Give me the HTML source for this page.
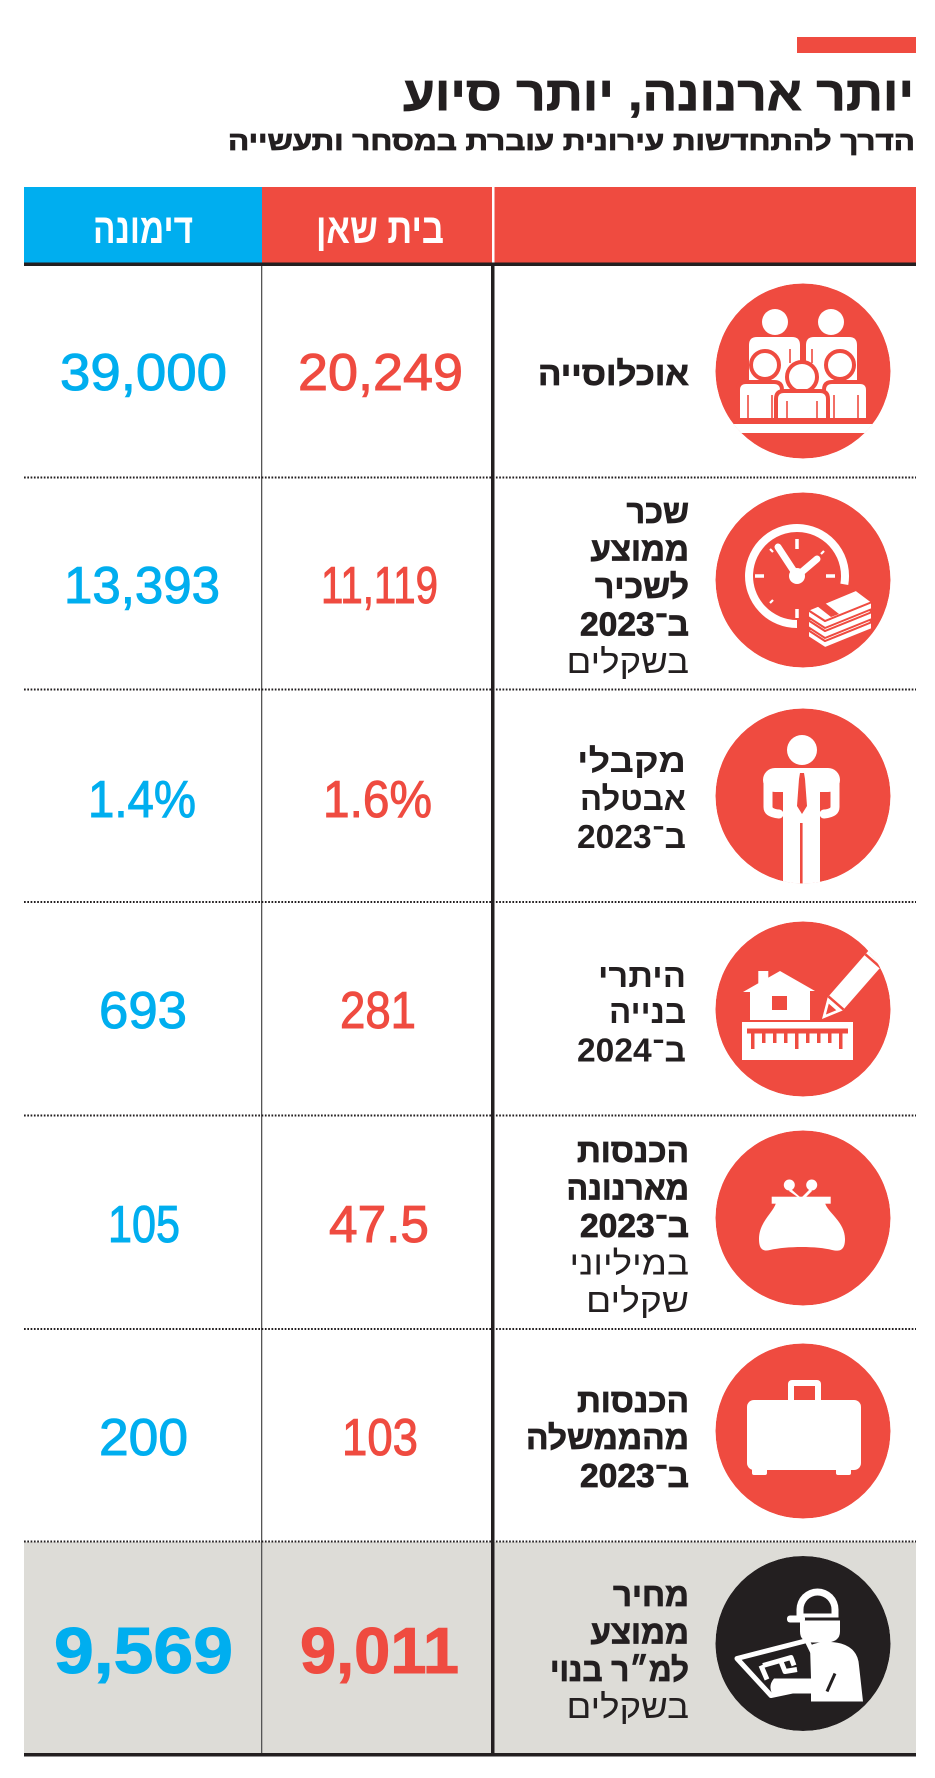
<!DOCTYPE html>
<html><head><meta charset="utf-8">
<style>
html,body{margin:0;padding:0;background:#fff;width:935px;height:1778px;overflow:hidden;}
svg{display:block;}
text{font-family:"Liberation Sans","DejaVu Sans",sans-serif;}
.t{fill:#231f20;font-weight:bold;}
.tb{fill:#231f20;font-weight:bold;stroke:#231f20;stroke-width:0.8;}
.tr{fill:#231f20;font-weight:normal;}
.nr{fill:#ef4b40;stroke:#ef4b40;stroke-width:1;}
.nb{fill:#00aeef;stroke:#00aeef;stroke-width:1;}
</style></head><body>
<svg width="935" height="1778" viewBox="0 0 935 1778" xmlns="http://www.w3.org/2000/svg">
<defs>
<clipPath id="c"><circle cx="0" cy="0" r="87.5"/></clipPath>
</defs>
<rect width="935" height="1778" fill="#fff"/>
<rect x="797" y="37" width="119" height="16" fill="#ef4b40"/>
<text class="tb" x="403" y="110" font-size="48" stroke-width="1.2" textLength="511" lengthAdjust="spacingAndGlyphs">יותר ארנונה, יותר סיוע</text>
<text class="tb" x="228" y="150" font-size="26" textLength="687" lengthAdjust="spacingAndGlyphs">הדרך להתחדשות עירונית עוברת במסחר ותעשייה</text>

<!-- header -->
<rect x="24" y="187" width="238" height="76" fill="#00aeef"/>
<rect x="262" y="187" width="654" height="76" fill="#ef4b40"/>
<rect x="492" y="187" width="2.5" height="76" fill="#fff"/>
<text x="93" y="243" font-size="42" font-weight="bold" fill="#fff" textLength="100" lengthAdjust="spacingAndGlyphs">דימונה</text>
<text x="316" y="243" font-size="42" font-weight="bold" fill="#fff" textLength="128" lengthAdjust="spacingAndGlyphs">בית שאן</text>

<!-- gray last row -->
<rect x="24" y="1542" width="892" height="211" fill="#dddcd7"/>

<!-- lines -->
<rect x="24" y="262.5" width="892" height="3.5" fill="#231f20"/>
<rect x="24" y="1753" width="892" height="3.5" fill="#231f20"/>
<rect x="261" y="266" width="1.3" height="1487" fill="#555"/>
<rect x="491" y="266" width="3.5" height="1487" fill="#231f20"/>
<g stroke="#231f20" stroke-width="2" stroke-dasharray="1.7 1.6">
<line x1="24" x2="916" y1="477.5" y2="477.5"/>
<line x1="24" x2="916" y1="689.5" y2="689.5"/>
<line x1="24" x2="916" y1="902" y2="902"/>
<line x1="24" x2="916" y1="1115.5" y2="1115.5"/>
<line x1="24" x2="916" y1="1329" y2="1329"/>
<line x1="24" x2="916" y1="1541.5" y2="1541.5"/>
</g>

<!-- row labels -->
<text class="tb" x="538" y="385" font-size="33" textLength="151" lengthAdjust="spacingAndGlyphs">אוכלוסייה</text>

<text class="tb" x="626.5" y="523" font-size="33" textLength="62.5" lengthAdjust="spacingAndGlyphs">שכר</text>
<text class="tb" x="590.5" y="560.5" font-size="33" textLength="98.5" lengthAdjust="spacingAndGlyphs">ממוצע</text>
<text class="tb" x="595" y="598" font-size="33" textLength="94" lengthAdjust="spacingAndGlyphs">לשכיר</text>
<text class="tb" x="580" y="635.5" font-size="33" textLength="109" lengthAdjust="spacingAndGlyphs">ב־2023</text>
<text class="tr" x="566.5" y="673" font-size="33" textLength="122.5" lengthAdjust="spacingAndGlyphs">בשקלים</text>

<text class="t" x="577" y="772" font-size="33" textLength="109" lengthAdjust="spacingAndGlyphs">מקבלי</text>
<text class="t" x="580" y="810" font-size="33" textLength="106" lengthAdjust="spacingAndGlyphs">אבטלה</text>
<text class="t" x="577" y="848" font-size="33" textLength="109" lengthAdjust="spacingAndGlyphs">ב־2023</text>

<text class="t" x="598" y="987" font-size="33" textLength="88" lengthAdjust="spacingAndGlyphs">היתרי</text>
<text class="t" x="609" y="1023" font-size="33" textLength="77" lengthAdjust="spacingAndGlyphs">בנייה</text>
<text class="t" x="577" y="1061.5" font-size="33" textLength="109" lengthAdjust="spacingAndGlyphs">ב־2024</text>

<text class="tb" x="577" y="1162" font-size="33" textLength="112" lengthAdjust="spacingAndGlyphs">הכנסות</text>
<text class="tb" x="566.5" y="1199.5" font-size="33" textLength="122.5" lengthAdjust="spacingAndGlyphs">מארנונה</text>
<text class="tb" x="580" y="1237" font-size="33" textLength="109" lengthAdjust="spacingAndGlyphs">ב־2023</text>
<text class="tr" x="569.5" y="1274.5" font-size="33" textLength="119.5" lengthAdjust="spacingAndGlyphs">במיליוני</text>
<text class="tr" x="586" y="1312" font-size="33" textLength="103" lengthAdjust="spacingAndGlyphs">שקלים</text>

<text class="tb" x="577" y="1412" font-size="33" textLength="112" lengthAdjust="spacingAndGlyphs">הכנסות</text>
<text class="tb" x="526" y="1449" font-size="33" textLength="163" lengthAdjust="spacingAndGlyphs">מהממשלה</text>
<text class="tb" x="580" y="1487" font-size="33" textLength="109" lengthAdjust="spacingAndGlyphs">ב־2023</text>

<text class="tb" x="613" y="1606" font-size="33" textLength="76" lengthAdjust="spacingAndGlyphs">מחיר</text>
<text class="tb" x="590.5" y="1643.5" font-size="33" textLength="98.5" lengthAdjust="spacingAndGlyphs">ממוצע</text>
<text class="tb" x="550" y="1681" font-size="33" textLength="139" lengthAdjust="spacingAndGlyphs">למ״ר בנוי</text>
<text class="tr" x="566.5" y="1718" font-size="33" textLength="122.5" lengthAdjust="spacingAndGlyphs">בשקלים</text>

<!-- numbers -->
<g font-size="52">
<text class="nb" x="60" y="390" textLength="167" lengthAdjust="spacingAndGlyphs">39,000</text>
<text class="nr" x="298" y="390" textLength="165" lengthAdjust="spacingAndGlyphs">20,249</text>
<text class="nb" x="64" y="603" textLength="156" lengthAdjust="spacingAndGlyphs">13,393</text>
<text class="nr" x="321" y="603" textLength="117" lengthAdjust="spacingAndGlyphs">11,119</text>
<text class="nb" x="88" y="817" textLength="108" lengthAdjust="spacingAndGlyphs">1.4%</text>
<text class="nr" x="323" y="817" textLength="109" lengthAdjust="spacingAndGlyphs">1.6%</text>
<text class="nb" x="99" y="1028" textLength="88" lengthAdjust="spacingAndGlyphs">693</text>
<text class="nr" x="340" y="1028" textLength="76" lengthAdjust="spacingAndGlyphs">281</text>
<text class="nb" x="108" y="1242" textLength="72" lengthAdjust="spacingAndGlyphs">105</text>
<text class="nr" x="329" y="1242" textLength="100" lengthAdjust="spacingAndGlyphs">47.5</text>
<text class="nb" x="99" y="1455" textLength="89" lengthAdjust="spacingAndGlyphs">200</text>
<text class="nr" x="342" y="1455" textLength="76" lengthAdjust="spacingAndGlyphs">103</text>
</g>
<g font-size="65" font-weight="bold">
<text class="nb" x="54" y="1673" textLength="179" lengthAdjust="spacingAndGlyphs">9,569</text>
<text class="nr" x="300" y="1673" textLength="159" lengthAdjust="spacingAndGlyphs">9,011</text>
</g>

<!-- ICON 1: people -->
<g transform="translate(803,371)"><g clip-path="url(#c)">
<circle r="87.5" fill="#ef4b40"/>
<g fill="#fff">
<circle cx="-28" cy="-49" r="13"/>
<circle cx="28" cy="-49" r="13"/>
<path d="M-54 -26 q0 -8 8 -8 h35 q8 0 8 8 v73 h-51z"/>
<path d="M3 -26 q0 -8 8 -8 h35 q8 0 8 8 v73 h-51z"/>
</g>
<g fill="#fff" stroke="#ef4b40" stroke-width="4">
<circle cx="-38" cy="-6" r="14"/>
<circle cx="37" cy="-6" r="14"/>
<path d="M-65 19 q0 -8 8 -8 h28 q8 0 8 8 v30 h-44z"/>
<path d="M21 19 q0 -8 8 -8 h28 q8 0 8 8 v30 h-44z"/>
<circle cx="-1" cy="6" r="15"/>
<path d="M-27 28 q0 -8 8 -8 h36 q8 0 8 8 v21 h-52z"/>
</g>
<g stroke="#ef4b40" stroke-width="1.6">
<line x1="-55" y1="24" x2="-55" y2="47"/>
<line x1="-31" y1="24" x2="-31" y2="47"/>
<line x1="-16" y1="30" x2="-16" y2="47"/>
<line x1="14" y1="30" x2="14" y2="47"/>
<line x1="31" y1="24" x2="31" y2="47"/>
<line x1="55" y1="24" x2="55" y2="47"/>
<line x1="-13" y1="-22" x2="-13" y2="-8"/>
<line x1="9" y1="-22" x2="9" y2="-8"/>
</g>
<rect x="-90" y="53" width="180" height="9" fill="#fff"/>
</g></g>

<!-- ICON 2: clock + money -->
<g transform="translate(803,580)"><g clip-path="url(#c)">
<circle r="87.5" fill="#ef4b40"/>
<g transform="translate(-6,-4)" stroke="#fff" fill="none">
<path d="M47.3 8.3 A48 48 0 1 0 0 48" stroke-width="8"/>
<g stroke-width="3.5">
<line x1="0" y1="-37" x2="0" y2="-27"/>
<line x1="29" y1="0" x2="38" y2="0"/>
<line x1="0" y1="33" x2="0" y2="42"/>
<line x1="-42" y1="0" x2="-33" y2="0"/>
</g>
<g stroke-width="2.2">
<line x1="-27" y1="-27" x2="-24" y2="-24"/>
<line x1="27" y1="-25" x2="24" y2="-22"/>
<line x1="-27" y1="27" x2="-24" y2="24"/>
</g>
<line x1="0" y1="0" x2="-19" y2="-29" stroke-width="7" stroke-linecap="round"/>
<line x1="0" y1="0" x2="20" y2="-17" stroke-width="7" stroke-linecap="round"/>
<circle r="8" fill="#fff" stroke="none"/>
</g>
<g fill="#fff" stroke="#ef4b40" stroke-width="2" stroke-linejoin="round">
<g transform="translate(0,20)">
<polygon points="5,30 22,41 69,22 69,29 22,48 5,37"/>
<polygon points="5,30 53,10 69,22 22,41"/>
</g>
<g transform="translate(0,10)">
<polygon points="5,30 22,41 69,22 69,29 22,48 5,37"/>
<polygon points="5,30 53,10 69,22 22,41"/>
</g>
<g>
<polygon points="5,30 22,41 69,22 69,29 22,48 5,37"/>
<polygon points="5,30 53,10 69,22 22,41"/>
<polygon points="14,26 28,37 36,34 22,23" fill="#ef4b40" stroke="none"/>
</g>
</g>
</g></g>

<!-- ICON 3: man with tie -->
<g transform="translate(803,796)"><g clip-path="url(#c)">
<circle r="87.5" fill="#ef4b40"/>
<g fill="#fff">
<circle cx="-1" cy="-46" r="15"/>
<rect x="-20" y="-27" width="37" height="130"/>
<rect x="-40" y="-28" width="77" height="24" rx="12"/>
</g>
<g stroke="#fff" stroke-width="9" fill="none" stroke-linecap="round">
<path d="M-35 -18 V11 Q-35 17 -24 18"/>
<path d="M32 -18 V11 Q32 17 21 18"/>
</g>
<polygon points="-3,-23 1,-23 2,-17 4,10 -1,18 -6,10 -4,-17" fill="#ef4b40"/>
<rect x="-3" y="27" width="2.6" height="70" fill="#ef4b40"/>
</g></g>

<!-- ICON 4: house + ruler + pencil -->
<g transform="translate(803,1009)"><g clip-path="url(#c)">
<circle r="87.5" fill="#ef4b40"/>
<polygon fill="#fff" points="-60,-17 -44.7,-25.7 -44.7,-38 -34.7,-38 -34.7,-31.4 -23,-38 12,-18 7,-18 7,11 -53,11 -53,-17"/>
<rect x="-31" y="-13" width="15" height="14" fill="#ef4b40"/>
<rect x="-61" y="13" width="111" height="38" fill="#fff"/>
<rect x="-56" y="19.5" width="101" height="5" fill="#ef4b40"/>
<g fill="#ef4b40">
<rect x="-52" y="24" width="3.5" height="16"/>
<rect x="-41" y="24" width="3.5" height="10"/>
<rect x="-30" y="24" width="3.5" height="10"/>
<rect x="-19" y="24" width="3.5" height="10"/>
<rect x="-8" y="24" width="3.5" height="16"/>
<rect x="3" y="24" width="3.5" height="10"/>
<rect x="14" y="24" width="3.5" height="10"/>
<rect x="25" y="24" width="3.5" height="10"/>
<rect x="36" y="24" width="3.5" height="16"/>
</g>
<g transform="translate(19,10) rotate(-48.8)">
<polygon points="0,0 20,-10 95,-10 95,10 20,10" fill="#fff"/>
<polygon points="6,0 16,-5 16,5" fill="#ef4b40"/>
<rect x="20" y="-10" width="2.5" height="20" fill="#ef4b40"/>
<rect x="76" y="-10" width="2.5" height="20" fill="#ef4b40"/>
</g>
</g></g>

<!-- ICON 5: purse -->
<g transform="translate(803,1218)"><g clip-path="url(#c)">
<circle r="87.5" fill="#ef4b40"/>
<g fill="#fff">
<circle cx="-13.7" cy="-33" r="5.5"/>
<circle cx="8.7" cy="-33" r="5.5"/>
<path d="M-12 -29 L-3 -21 L-1 -21 L7 -29 L9 -27 L2 -20 L-4 -20 L-14 -27 Z"/>
<rect x="-31.3" y="-21.3" width="59" height="7"/>
<path d="M-27 -15 L22 -15 C25 -5 42 4 42 21 C42 32 37 34 29 32 C14 28 -16 28 -33 32 C-41 34 -44 30 -44 21 C-44 4 -30 -5 -27 -15 Z"/>
</g>
</g></g>

<!-- ICON 6: suitcase -->
<g transform="translate(803,1431)"><g clip-path="url(#c)">
<circle r="87.5" fill="#ef4b40"/>
<rect x="-15" y="-51" width="33" height="26" rx="4" fill="#fff"/>
<rect x="-9" y="-45" width="21" height="16" fill="#ef4b40"/>
<rect x="-56" y="-31" width="114" height="70" rx="7" fill="#fff"/>
<rect x="-51" y="36" width="15" height="8" rx="2" fill="#fff"/>
<rect x="33" y="36" width="15" height="8" rx="2" fill="#fff"/>
</g></g>

<!-- ICON 7: worker -->
<g transform="translate(803,1643.5)"><g clip-path="url(#c)">
<circle r="87.5" fill="#231f20"/>
<g fill="#fff">
<rect x="-16" y="-28" width="18" height="7" rx="3"/>
<path d="M-6.5 -26 V-34 A21 21 0 0 1 35.5 -34 V-26 Z"/>
</g>
<path d="M0.5 -30 V-34 A14 14 0 0 1 28.5 -34 V-30 Z" fill="#231f20"/>
<path d="M-3 -23 H37 V-12 Q37 -1 22 -1 H10 Q-3 -1 -3 -12 Z" fill="#fff"/>
<g stroke="#fff" stroke-width="5" fill="none" stroke-linejoin="round">
<polygon points="-66,15 4,-3 25,40 -32,52"/>
<polyline points="-42,22 -36,36"/>
<polyline points="-40,22 -12,14 -9,22"/>
<polyline points="-22,18 -18,28 -6,26"/>
</g>
<path d="M7 2 Q20 -4 38 0 Q55 5 56 22 L60 58 L8 58 L8 50 L-31 50 Q-35 42 -29 35 L8 35 Z" fill="#fff"/>
<line x1="32" y1="30" x2="24" y2="48" stroke="#231f20" stroke-width="3"/>
</g></g>

</svg>
</body></html>
